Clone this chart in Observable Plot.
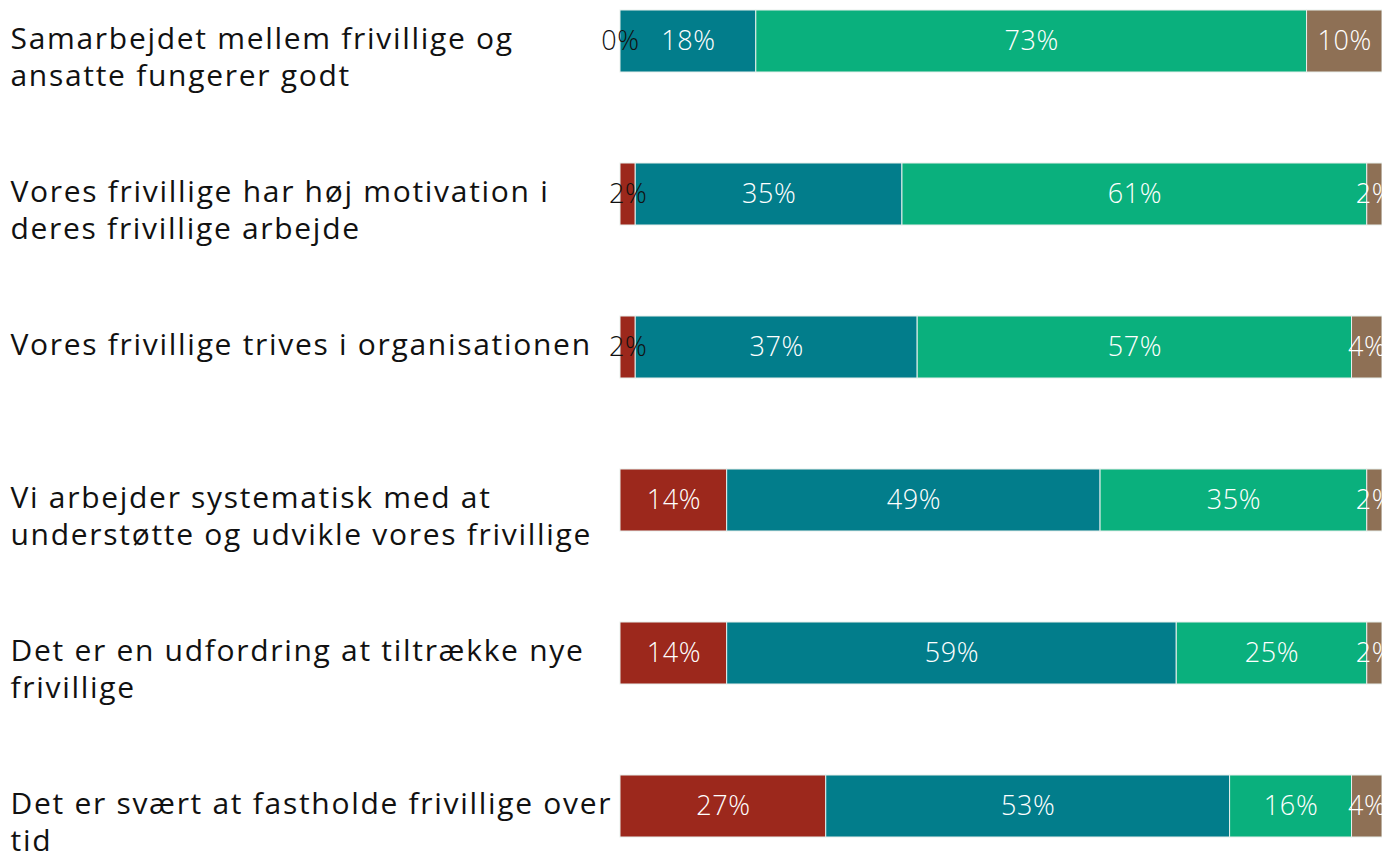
<!DOCTYPE html>
<html>
<head>
<meta charset="utf-8">
<script src="https://cdn.jsdelivr.net/npm/d3@7"></script>
<script src="https://cdn.jsdelivr.net/npm/@observablehq/plot@0.6"></script>
<style>
  html, body { margin: 0; padding: 0; background: #fff; }
  #chart svg { overflow: visible; display: block; }
  .cat-label text { letter-spacing: 1.7px; }
  .val-label text { letter-spacing: 0.6px; }
</style>
</head>
<body>
<div id="chart"></div>
<script>
const categories = [
  "Samarbejdet mellem frivillige og\nansatte fungerer godt",
  "Vores frivillige har høj motivation i\nderes frivillige arbejde",
  "Vores frivillige trives i organisationen",
  "Vi arbejder systematisk med at\nunderstøtte og udvikle vores frivillige",
  "Det er en udfordring at tiltrække nye\nfrivillige",
  "Det er svært at fastholde frivillige over\ntid"
];
const groups = ["Uenig", "Delvist enig", "Enig", "Ved ikke"];
const colors = ["#9C281C", "#027D8B", "#0AB07D", "#8E7055"];
const uenig      = [0, 2, 2, 14, 14, 27];
const delvisEnig = [18, 35, 37, 49, 59, 53];
const enig       = [73, 61, 57, 35, 25, 16];
const vedIkke    = [10, 2, 4, 2, 2, 4];
const series = [uenig, delvisEnig, enig, vedIkke];

const data = [];
categories.forEach((c, i) => {
  groups.forEach((g, j) => {
    data.push({category: c, group: g, value: series[j][i]});
  });
});

const stackOpts = (extra) => Plot.stackX({
  x: "value", y: "category", z: "group", offset: "normalize",
  order: groups, ...extra
});

const chart = Plot.plot({
  width: 1382,
  height: 855,
  marginLeft: 620,
  marginRight: 0,
  marginTop: 10,
  marginBottom: 18,
  style: {fontFamily: "'Open Sans', sans-serif", background: "transparent"},
  x: {axis: null},
  y: {domain: categories, axis: null, paddingInner: 0.595, paddingOuter: 0},
  color: {domain: groups, range: colors},
  marks: [
    Plot.barX(data, stackOpts({fill: "group", stroke: "#e8efec", strokeWidth: 1, inset: 0})),
    Plot.text(data, stackOpts({
      text: d => d.value + "%",
      fill: d => (d.group === "Uenig" && d.value < 5) ? "#111" : "#fff",
      fontSize: 27,
      fontWeight: 300,
      className: "val-label"
    })),
    Plot.text(categories, {
      y: d => d,
      text: d => d,
      frameAnchor: "left",
      textAnchor: "start",
      lineAnchor: "top",
      dx: -610,
      dy: -19,
      fontSize: 30,
      lineHeight: 1.24,
      fill: "#111",
      className: "cat-label"
    })
  ]
});
document.getElementById("chart").appendChild(chart);
</script>
</body>
</html>
